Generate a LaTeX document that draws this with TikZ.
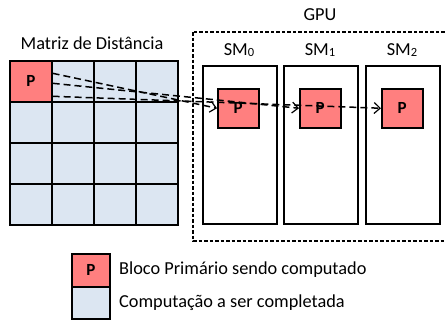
\documentclass[tikz,border=0pt]{standalone}
\usepackage{fontspec}
\setmainfont{Carlito}
\usetikzlibrary{arrows.meta}
\definecolor{blocored}{HTML}{FF7F7F}
\definecolor{cellblue}{HTML}{DCE6F2}
\newcommand{\smsub}[1]{\raisebox{-0.5pt}{\fontsize{12.5}{12.5}\selectfont #1}}
\begin{document}
\begin{tikzpicture}[x=1pt,y=-1pt,
  txt/.style={font=\fontsize{18.3}{20}\selectfont, inner sep=0pt},
  cell/.style={draw=black, line width=1.6pt, fill=cellblue, minimum width=42pt, minimum height=41pt, inner sep=0pt, anchor=north west},
  pcell/.style={cell, fill=blocored, font=\fontsize{17}{17}\selectfont\bfseries},
  smbox/.style={draw=black, line width=2pt, fill=white, minimum width=74pt, minimum height=158pt, inner sep=0pt, anchor=north west},
  pbox/.style={draw=black, line width=1.5pt, fill=blocored, minimum width=41pt, minimum height=39pt, inner sep=0pt, anchor=north west, font=\fontsize{17}{17}\selectfont\bfseries},
  link/.style={dashed, dash pattern=on 7pt off 4pt, line width=1.5pt, -{Straight Barb[length=6pt, width=11pt, line width=1.2pt]}},
  gpubox/.style={draw=black, dashed, dash pattern=on 3.5pt off 2pt, line width=1.1pt}
]
\useasboundingbox (0,0) rectangle (445,324);
\clip (0,0) rectangle (445,324);

% distance matrix
\node[txt] (mtitle) at (92,43) {Matriz de Distância};
\foreach \r/\y in {0/60,1/101,2/142,3/183}{
  \foreach \c/\x in {0/9,1/51,2/93,3/135}{
    \node[cell] (c\r\c) at (\x,\y) {};
  }
}
\node[pcell] (pm) at (9,60) {P};

% GPU with its streaming multiprocessors
\draw[gpubox] (193,32) rectangle (470,241);
\node[txt] (gpu) at (320,15) {GPU};
\foreach \i/\x in {0/202,1/283,2/365}{
  \node[smbox] (sm\i) at (\x,65) {};
  \node[txt] (sml\i) at (\x+37,50) {SM\smsub{\i}};
}
\node[pbox] (p0) at (217,88) {P};
\node[pbox] (p1) at (299,88) {P};
\node[pbox] (p2) at (381,88) {P};

% block transfers
\coordinate (s2) at ([yshift=-15pt]pm.east);
\coordinate (s1) at ([yshift=-2pt]pm.east);
\coordinate (s0) at ([yshift=8pt]pm.east);
\draw[link] (s2) -- (p2.west);
\draw[link] (s1) -- (p1.west);
\draw[link] (s0) -- (p0.west);

% legend
\node[pcell, minimum width=38pt, minimum height=33pt] (lp) at (71,253) {P};
\node[cell, minimum width=38pt, minimum height=32pt] (lb) at (71,286) {};
\node[txt, anchor=west] (lpt) at (119,270) {Bloco Primário sendo computado};
\node[txt, anchor=west] (lbt) at (119,303) {Computação a ser completada};
\end{tikzpicture}
\end{document}
